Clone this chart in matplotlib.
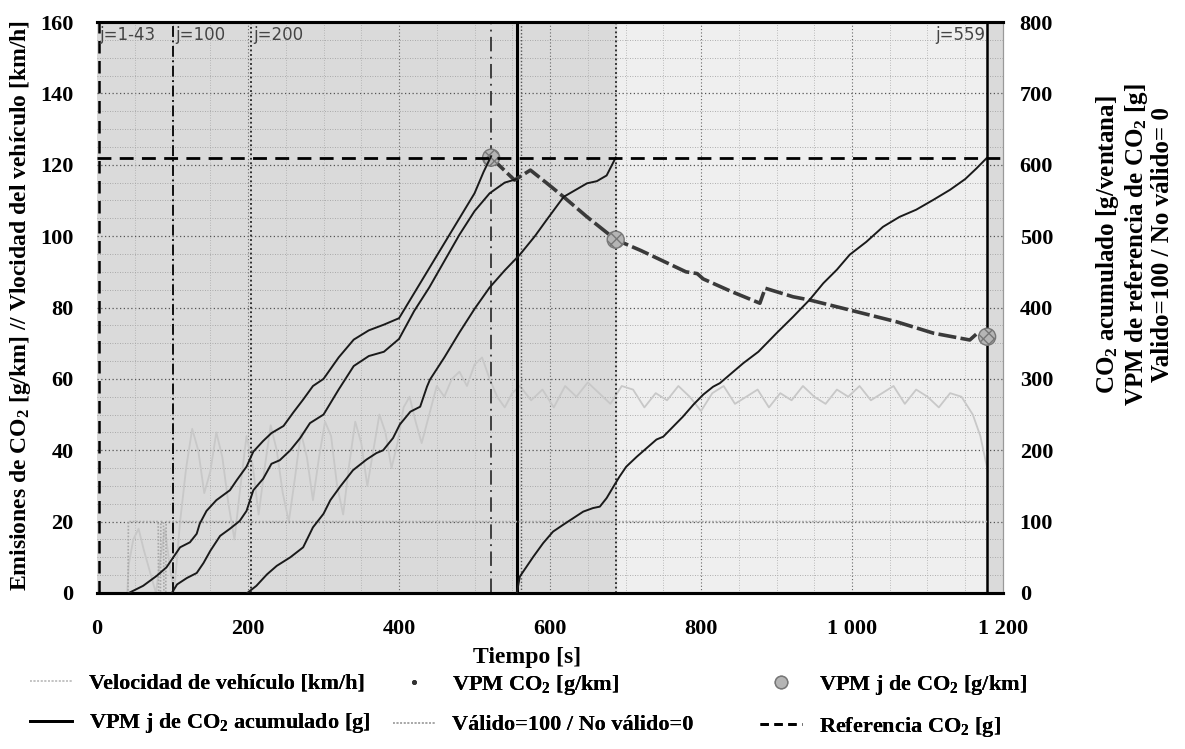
#%% Ventanas de promedio movil (VPM) - CO2
import matplotlib
matplotlib.use("Agg")
import matplotlib.pyplot as plt
from matplotlib.lines import Line2D

plt.rcParams['font.family'] = ['Liberation Serif', 'DejaVu Serif']
plt.rcParams['font.weight'] = 'bold'
plt.rcParams['mathtext.fontset'] = 'custom'
plt.rcParams['mathtext.rm'] = 'Liberation Serif:bold'
plt.rcParams['mathtext.bf'] = 'Liberation Serif:bold'
plt.rcParams['mathtext.default'] = 'bf'

#--------------------------------------------------------------------------------------------------#
#%% 1. Data

# vehicle speed [km/h]
t_speed = [0, 40, 42, 48, 55, 62, 70, 78, 84, 90, 96, 102, 110, 118, 126, 134, 142, 150, 158, 166,
           174, 182, 190, 198, 206, 214, 222, 230, 238, 246, 254, 262, 270, 278, 286, 294, 302, 310,
           318, 326, 334, 342, 350, 358, 366, 374, 382, 390, 398, 406, 414, 422, 430, 440, 450, 460,
           470, 480, 490, 500, 510, 520, 530, 540, 550, 560, 575, 590, 605, 620, 635, 650, 665, 680,
           695, 710, 725, 740, 755, 770, 785, 800, 815, 830, 845, 860, 875, 890, 905, 920, 935, 950,
           965, 980, 995, 1010, 1025, 1040, 1055, 1070, 1085, 1100, 1115, 1130, 1145, 1160, 1170, 1180]
speed = [0, 0, 8, 15, 18, 12, 6, 0, 10, 18, 8, 0, 20, 35, 46, 40, 28, 34, 45, 38,
         25, 15, 30, 44, 36, 22, 35, 47, 40, 28, 20, 32, 45, 38, 26, 38, 48, 44, 30,
         22, 36, 48, 42, 30, 40, 50, 45, 35, 42, 52, 55, 48, 42, 50, 58, 55,
         60, 62, 58, 64, 66, 60, 55, 52, 56, 58, 54, 57, 52, 58, 55, 59, 56, 53,
         58, 57, 52, 56, 54, 58, 55, 51, 56, 58, 53, 55, 57, 52, 56, 54, 58, 55,
         53, 57, 55, 58, 54, 56, 58, 53, 57, 55, 52, 56, 55, 50, 44, 34]

# valid = 100 / not valid = 0 (right axis)
t_valid = [0, 41, 41.5, 81, 81.5, 84, 84.5, 88, 88.5, 91, 91.5, 96, 96.5, 1179]
valid = [0, 0, 100, 100, 0, 0, 100, 100, 0, 0, 100, 100, 100, 100]

# cumulative CO2 per window [g] (right axis)
t_j1 = [42, 61, 79, 92, 101, 110, 123, 132, 136, 145, 158, 176, 185, 198, 207, 220, 231, 247, 260,
        273, 286, 300, 320, 340, 360, 380, 400, 420, 440, 460, 480, 500, 512, 522]
co2_j1 = [0, 10, 24, 36, 50, 64, 71, 83, 97, 115, 130, 144, 158, 177, 198, 213, 224, 234, 253,
          271, 290, 300, 330, 355, 368, 376, 385, 420, 455, 490, 525, 560, 590, 612]

t_j100 = [99, 106, 119, 132, 141, 150, 163, 176, 189, 198, 207, 220, 231, 242, 256, 269, 282, 300,
          320, 340, 360, 380, 400, 420, 440, 460, 480, 500, 520, 540, 556]
co2_j100 = [0, 12, 21, 28, 42, 59, 80, 90, 101, 115, 144, 160, 181, 186, 200, 217, 238, 250,
            285, 318, 332, 338, 356, 395, 428, 465, 502, 535, 560, 575, 580]

t_j200 = [199, 211, 225, 238, 256, 273, 286, 300, 309, 322, 339, 357, 370, 379, 392, 401, 415, 428,
          437, 441, 460, 480, 500, 520, 540, 560, 580, 595, 618, 649, 662, 675, 687]
co2_j200 = [0, 10, 26, 38, 50, 64, 92, 111, 130, 149, 172, 187, 196, 200, 217, 236, 254, 261,
            289, 299, 330, 365, 398, 428, 452, 474, 500, 522, 555, 574, 577, 585, 610]

t_j559 = [556, 560, 569, 578, 591, 604, 618, 631, 644, 657, 666, 675, 684, 692, 701, 715, 728, 741,
          750, 763, 776, 790, 803, 816, 825, 856, 876, 900, 922, 944, 962, 980, 997, 1019, 1041,
          1063, 1085, 1108, 1130, 1150, 1165, 1179]
co2_j559 = [0, 23, 37, 51, 70, 86, 96, 105, 114, 119, 121, 133, 149, 163, 177, 191, 203, 215,
            219, 233, 247, 264, 278, 289, 294, 322, 338, 364, 387, 411, 434, 453, 474, 492, 513,
            527, 537, 551, 565, 580, 595, 610]

# VPM CO2 [g/km] (left axis)
t_vpm = [522, 553, 574, 596, 618, 649, 687, 720, 750, 780, 795, 803, 840, 878, 885, 922, 944, 997,
         1059, 1108, 1156, 1165, 1179]
vpm = [122, 115.7, 118.5, 114.8, 111, 105.4, 99, 96, 93, 90, 89.5, 88, 84.5, 81.2, 85.4, 83, 82.1,
       79.3, 76, 72.8, 70.9, 72.6, 71.8]

# VPM j points [g/km]
t_vpm_j = [522, 687, 1179]
vpm_j = [122, 99, 71.8]

co2_ref = 610                                   # reference CO2 [g]
window_t = [2, 101, 204, 522, 556, 687, 1179]   # window limits [s]
window_labels = ['j=1-43', 'j=100', 'j=200', 'j=559']
window_label_t = [3, 104, 207, 1177]

x_ticks = [0, 200, 400, 600, 800, 1000, 1200]
x_tick_labels = ['0', '200', '400', '600', '800', '1 000', '1 200']

#--------------------------------------------------------------------------------------------------#
#%% 2. Figure
fig = plt.figure(figsize=(11.85, 7.49), dpi=100)
ax = fig.add_axes([0.0819, 0.2083, 0.7645, 0.7623])
ax2 = ax.twinx()

ax.set_xlim(0, 1200)
ax.set_ylim(0, 160)
ax2.set_ylim(0, 800)

# shaded background
ax.set_facecolor('#efefef')
ax.axvspan(0, window_t[5], color='#dadada', zorder=0)
ax.axvspan(window_t[6], 1200, color='#dadada', zorder=0)

# grid
for y in range(5, 160, 5):
    major = (y % 20 == 0)
    ax.axhline(y, color='#555555' if major else '#999999', ls=(0, (1, 2)),
               lw=0.9 if major else 0.6, zorder=1)
for x in range(50, 1200, 50):
    major = (x % 200 == 0)
    ax.axvline(x, color='#666666' if major else '#aaaaaa', ls=(0, (1, 2)),
               lw=0.8 if major else 0.6, zorder=1)

# speed and valid flag
ax.plot(t_speed, speed, color='#c8c8c8', lw=1.3, zorder=2)
ax2.plot(t_valid, valid, color='#a8a8a8', lw=1.2, ls=(0, (1, 1)), zorder=2)

# window limits
ax.axvline(window_t[0], color='k', ls=(0, (5, 3)), lw=1.8, zorder=3)
ax.axvline(window_t[1], color='k', ls=(0, (6, 2, 1, 2)), lw=1.3, zorder=3)
ax.axvline(window_t[2], color='#222222', ls=(0, (1, 1.5)), lw=1.3, zorder=3)
ax.axvline(window_t[3], color='#333333', ls=(0, (8, 3, 1, 3)), lw=1.3, zorder=3)
ax.axvline(window_t[4], color='k', ls='-', lw=2.2, zorder=3)
ax.axvline(window_t[4] + 6, color='#555555', ls=(0, (1, 1.5)), lw=1, zorder=3)
ax.axvline(window_t[5], color='#222222', ls=(0, (1, 1.5)), lw=1.3, zorder=3)
ax.axvline(window_t[6], color='k', ls='-', lw=1.8, zorder=3)

for lab, tx in zip(window_labels, window_label_t):
    ax.text(tx, 156.5, lab, family='DejaVu Sans', fontweight='normal', fontsize=12,
            color='#444444', ha='right' if tx > 1000 else 'left', va='center', zorder=4)

# cumulative CO2 and reference
for tt, cc in [(t_j1, co2_j1), (t_j100, co2_j100), (t_j200, co2_j200), (t_j559, co2_j559)]:
    ax2.plot(tt, cc, color='#1a1a1a', lw=1.4, zorder=4)
ax2.axhline(co2_ref, color='k', ls=(0, (5, 3)), lw=2, zorder=4)

# VPM CO2
ax.plot(t_vpm, vpm, color='#3a3a3a', lw=2.6, ls=(0, (5, 1.2)), zorder=5)
ax.scatter(t_vpm_j, vpm_j, s=150, facecolor='#b5b5b5', edgecolor='#777777', hatch='xxx',
           lw=1, zorder=6)

# axes style
for a in (ax, ax2):
    a.spines['top'].set_linewidth(2.2)
    a.spines['bottom'].set_linewidth(2.2)
    a.spines['left'].set_visible(False)
    a.spines['right'].set_color('#999999')
    a.spines['right'].set_linestyle((0, (1, 1)))
ax.set_xticks(x_ticks)
ax.set_xticklabels(x_tick_labels)
ax.set_yticks(range(0, 161, 20))
ax2.set_yticks(range(0, 801, 100))
ax.tick_params(axis='x', length=0, pad=19, labelsize=16)
ax.tick_params(axis='y', length=0, pad=17, labelsize=16)
ax2.tick_params(axis='y', length=0, pad=12, labelsize=16)

fig.text(21 / 1185, 1 - 305 / 749, 'Emisiones de CO$_2$ [g/km] // Vlocidad del vehículo [km/h]',
         rotation=90, ha='center', va='center', fontsize=17)
fig.text(527 / 1185, 1 - 657 / 749, 'Tiempo [s]', ha='center', va='center', fontsize=17)
fig.text(1134 / 1185, 1 - 245 / 749,
         'CO$_2$ acumulado [g/ventana]\nVPM de referencia de CO$_2$ [g]\nValido=100 / No válido= 0',
         rotation=90, ha='center', va='center', fontsize=18, linespacing=1.1)

#--------------------------------------------------------------------------------------------------#
#%% 3. Legend (three columns of two rows)
h_speed = Line2D([], [], color='#c4c4c4', lw=1.3, ls=(0, (1, 1)))
h_cum = Line2D([], [], color='k', lw=2)
h_vpm = Line2D([], [], color='#333333', marker='.', ls='none', markersize=5)
h_valid = Line2D([], [], color='#a8a8a8', lw=1.3, ls=(0, (1, 1)))
h_vpm_j = Line2D([], [], color='#777777', marker='o', ls='none', markersize=9,
                 markerfacecolor='#b5b5b5')
h_ref = Line2D([], [], color='k', lw=2, ls=(0, (3, 2)))

columns = [
    (30, [h_speed, h_cum], ['Velocidad de vehículo [km/h]', 'VPM j de CO$_2$ acumulado [g]']),
    (393, [h_vpm, h_valid], ['VPM CO$_2$ [g/km]', 'Válido=100 / No válido=0']),
    (760, [h_vpm_j, h_ref], ['VPM j de CO$_2$ [g/km]', 'Referencia CO$_2$ [g]']),
]
for x0, hs, labs in columns:
    leg = fig.legend(hs, labs, loc='upper left', bbox_to_anchor=(x0 / 1185, 1 - 673 / 749),
                     frameon=False, fontsize=16, handlelength=1.9, handletextpad=0.75,
                     labelspacing=0.8, borderpad=0, borderaxespad=0)
    fig.add_artist(leg)

fig.savefig('out.png', dpi=100)
